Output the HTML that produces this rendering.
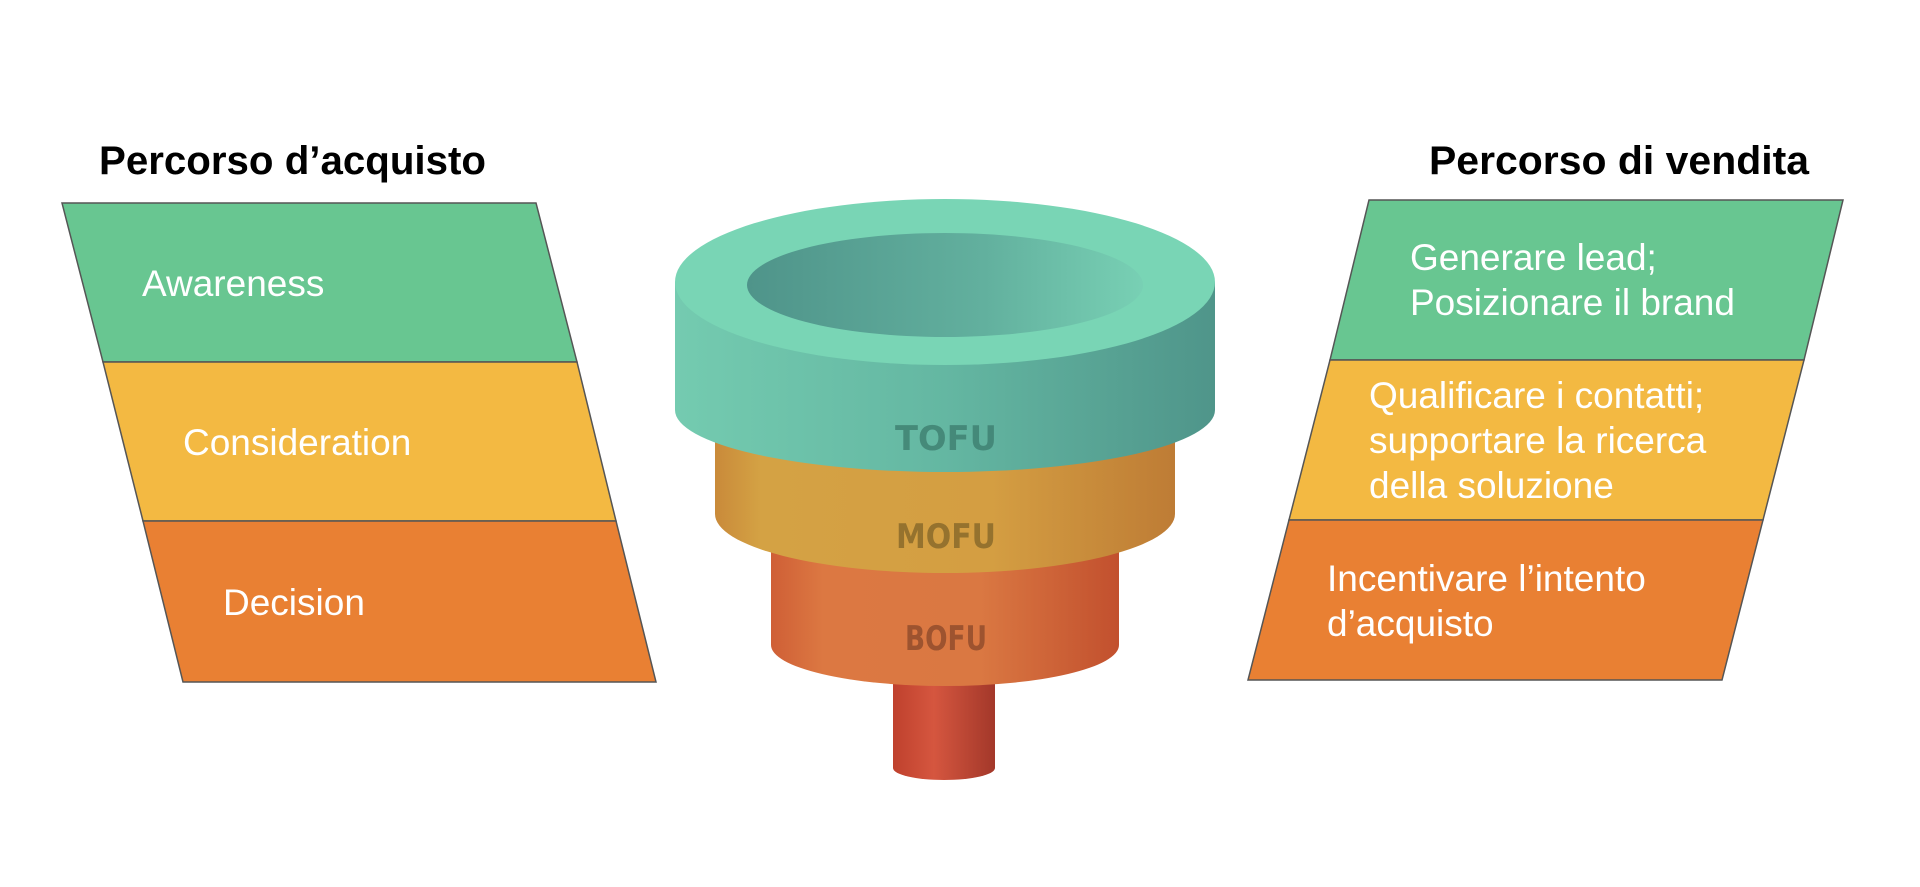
<!DOCTYPE html>
<html><head><meta charset="utf-8"><style>
html,body{margin:0;padding:0;background:#fff;}
svg{display:block;}
.t{font-family:"Liberation Sans",Arial,sans-serif;fill:#fff;font-size:37px;}
.h{font-family:"Liberation Sans",Arial,sans-serif;font-weight:bold;font-size:40px;fill:#000;}
.f{font-family:"DejaVu Sans","Liberation Sans",sans-serif;font-weight:bold;font-size:34px;}
</style></head><body>
<svg width="1920" height="887" viewBox="0 0 1920 887" xmlns="http://www.w3.org/2000/svg">
<defs>
<linearGradient id="gT" x1="0" x2="1"><stop offset="0" stop-color="#74cbb0"/><stop offset="0.5" stop-color="#64b7a2"/><stop offset="1" stop-color="#4f958a"/></linearGradient>
<linearGradient id="gI" x1="0" x2="1"><stop offset="0" stop-color="#4f948a"/><stop offset="0.6" stop-color="#62b09e"/><stop offset="1" stop-color="#78d0b4"/></linearGradient>
<linearGradient id="gM" x1="0" x2="1"><stop offset="0" stop-color="#c98a3a"/><stop offset="0.1" stop-color="#d4a244"/><stop offset="0.6" stop-color="#d49e42"/><stop offset="1" stop-color="#be7c35"/></linearGradient>
<linearGradient id="gB" x1="0" x2="1"><stop offset="0" stop-color="#cf5f36"/><stop offset="0.15" stop-color="#dc7842"/><stop offset="0.6" stop-color="#da7842"/><stop offset="1" stop-color="#c2502e"/></linearGradient>
<linearGradient id="gS" x1="0" x2="1"><stop offset="0" stop-color="#bf412d"/><stop offset="0.4" stop-color="#d5563f"/><stop offset="1" stop-color="#a3382a"/></linearGradient>
</defs>

<text class="h" x="99" y="174" textLength="387" lengthAdjust="spacingAndGlyphs">Percorso d’acquisto</text>
<text class="h" x="1429" y="174" textLength="380" lengthAdjust="spacingAndGlyphs">Percorso di vendita</text>

<g stroke="#555" stroke-width="1.5">
<polygon points="62,203 536,203 577,362 103,362" fill="#68c691"/>
<polygon points="103,362 577,362 616,521 143,521" fill="#f3b942"/>
<polygon points="143,521 616,521 656,682 183,682" fill="#e98033"/>
</g>
<text class="t" x="142" y="296">Awareness</text>
<text class="t" x="183" y="455">Consideration</text>
<text class="t" x="223" y="615">Decision</text>

<g stroke="#555" stroke-width="1.5">
<polygon points="1369,200 1843,200 1804,360 1330,360" fill="#68c691"/>
<polygon points="1330,360 1804,360 1763,520 1289,520" fill="#f3b942"/>
<polygon points="1289,520 1763,520 1722,680 1248,680" fill="#e98033"/>
</g>
<text class="t" x="1410" y="270">Generare lead;</text>
<text class="t" x="1410" y="315">Posizionare il brand</text>
<text class="t" x="1369" y="408">Qualificare i contatti;</text>
<text class="t" x="1369" y="453">supportare la ricerca</text>
<text class="t" x="1369" y="498">della soluzione</text>
<text class="t" x="1327" y="591">Incentivare l’intento</text>
<text class="t" x="1327" y="636">d’acquisto</text>

<path d="M893,640 L893,768 A51,12 0 0 0 995,768 L995,640 Z" fill="url(#gS)"/>
<path d="M771,540 L771,645 A174,41 0 0 0 1119,645 L1119,540 Z" fill="url(#gB)"/>
<path d="M715,420 L715,514 A230,59 0 0 0 1175,514 L1175,420 Z" fill="url(#gM)"/>
<path d="M675,282 L675,410 A270,62 0 0 0 1215,410 L1215,282 Z" fill="url(#gT)"/>
<ellipse cx="945" cy="282" rx="270" ry="83" fill="#79d5b5"/>
<ellipse cx="945" cy="285" rx="198" ry="52" fill="url(#gI)"/>

<text class="f" x="946" y="450" text-anchor="middle" fill="#3f8172" fill-opacity="0.85" textLength="102" lengthAdjust="spacingAndGlyphs">TOFU</text>
<text class="f" x="946" y="548" text-anchor="middle" fill="#8a6a2a" fill-opacity="0.85" textLength="100" lengthAdjust="spacingAndGlyphs">MOFU</text>
<text class="f" x="946" y="650" text-anchor="middle" fill="#8d4a2a" fill-opacity="0.8" textLength="82" lengthAdjust="spacingAndGlyphs">BOFU</text>
</svg>
</body></html>
